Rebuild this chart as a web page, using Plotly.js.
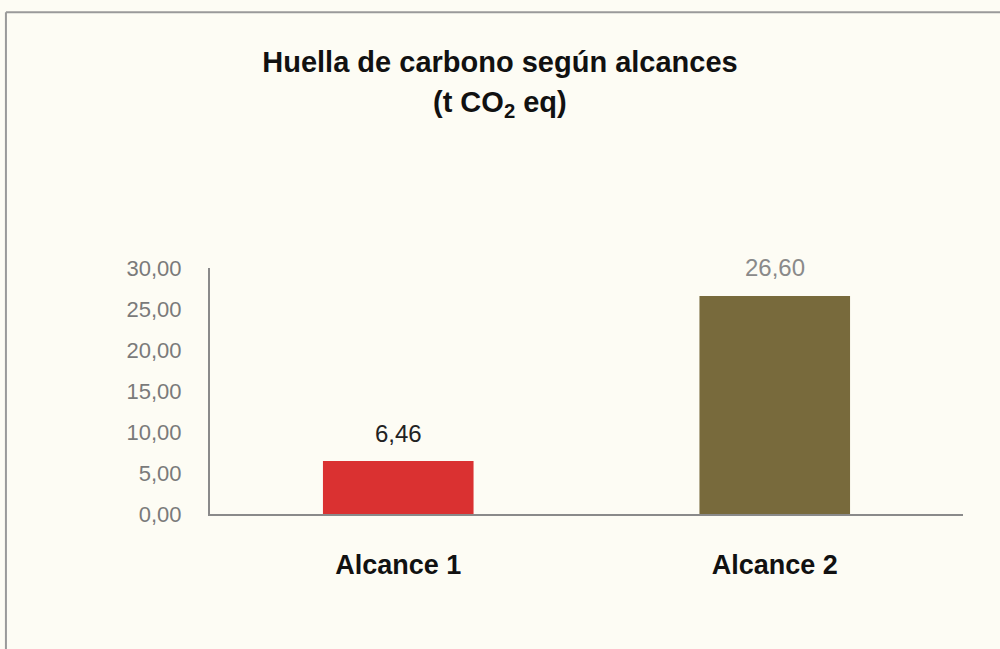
<!DOCTYPE html>
<html>
<head>
<meta charset="utf-8">
<script src="https://cdn.plot.ly/plotly-3.0.1.min.js"></script>
<style>html,body{margin:0;padding:0;background:#fdfcf4;}#chart{width:1000px;height:649px;}</style>
</head>
<body>
<div id="chart"></div>
<script>
const categories = ["Alcance 1", "Alcance 2"];
const values = [6.46, 26.60];
const barColors = ["#da3131", "#786a3c"];
const labelColors = ["#222222", "#8a8a8a"];
const yTicks = [0, 5, 10, 15, 20, 25, 30];
const titleLine1 = "Huella de carbono según alcances";
const titleLine2 = "(t CO<sub>2</sub> eq)";

const FONT = "'Liberation Sans', Arial, sans-serif";

const trace = {
  type: "bar",
  x: categories,
  y: values,
  marker: { color: barColors },
  hoverinfo: "none"
};

const valueAnnotations = categories.map((c, i) => ({
  x: c, y: values[i], xref: "x", yref: "y",
  text: values[i].toFixed(2).replace(".", ","),
  showarrow: false, yanchor: "middle", yshift: 28,
  font: { family: FONT, size: 24, color: labelColors[i] }
}));

const layout = {
  width: 1000,
  height: 649,
  paper_bgcolor: "#fdfcf4",
  plot_bgcolor: "#fdfcf4",
  separators: ",.",
  margin: { l: 210, r: 37, t: 268, b: 135 },
  bargap: 0.6,
  showlegend: false,
  title: {
    text: "<b>" + titleLine1 + "</b>",
    font: { family: FONT, size: 29, color: "#111111" },
    x: 0.5, xref: "container", xanchor: "center",
    y: 1 - 62 / 649, yref: "container", yanchor: "middle"
  },
  xaxis: {
    type: "category",
    showline: true, linecolor: "#8a8a8a", linewidth: 2,
    ticks: "", showgrid: false, zeroline: false,
    tickfont: { family: FONT, size: 27, color: "#111111", weight: "bold" },
    ticklabelstandoff: 26
  },
  yaxis: {
    range: [0, 30],
    tickvals: yTicks,
    tickformat: ".2f",
    showline: true, linecolor: "#8a8a8a", linewidth: 2,
    ticks: "", showgrid: false, zeroline: false,
    tickfont: { family: FONT, size: 22, color: "#7a7a7a" },
    ticklabelstandoff: 22
  },
  annotations: valueAnnotations.concat([{
    text: "<b>" + titleLine2 + "</b>",
    xref: "paper", yref: "paper",
    x: (500 - 210) / 753, y: (514 - 104) / 246,
    xanchor: "center", yanchor: "middle", showarrow: false,
    font: { family: FONT, size: 29, color: "#111111" }
  }]),
  shapes: [
    { type: "line", xref: "paper", yref: "paper", x0: -0.271, x1: 1.06, y0: 2.04, y1: 2.04, line: { color: "#9a9a9a", width: 2 } },
    { type: "line", xref: "paper", yref: "paper", x0: -0.271, x1: -0.271, y0: 2.04, y1: -0.6, line: { color: "#9a9a9a", width: 2 } }
  ]
};

Plotly.newPlot("chart", [trace], layout, { staticPlot: true });
</script>
</body>
</html>
